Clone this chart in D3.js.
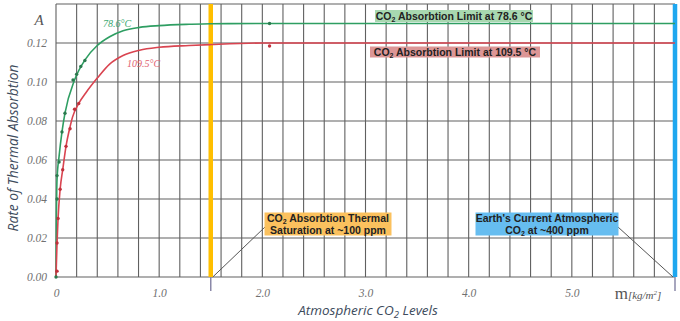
<!DOCTYPE html>
<html><head><meta charset="utf-8">
<script src="https://cdn.jsdelivr.net/npm/d3@7"></script>
<style>body{margin:0;background:#fff}svg{display:block}</style>
</head><body><svg id="c" width="680" height="321"></svg>
<script>
// ---- data ----
const xTickValues = [0, 1, 2, 3, 4, 5];
const xTickLabels = ["0", "1.0", "2.0", "3.0", "4.0", "5.0"];
const yTickValues = [0, 0.02, 0.04, 0.06, 0.08, 0.10, 0.12];
const yTickLabels = ["0.00", "0.02", "0.04", "0.06", "0.08", "0.10", "0.12"];
const greenCurveX = [0, 0.004, 0.01, 0.03, 0.058, 0.087, 0.18, 0.29, 0.40, 0.52, 0.65, 0.81, 1.0, 1.29, 1.5, 2.0, 3.0, 6.0];
const greenCurveY = [0, 0.03, 0.05, 0.062, 0.0744, 0.084, 0.101, 0.112, 0.1187, 0.1232, 0.1263, 0.128, 0.1289, 0.1296, 0.1299, 0.13, 0.13, 0.13];
const redCurveX = [0, 0.01, 0.02, 0.04, 0.065, 0.097, 0.136, 0.16, 0.22, 0.29, 0.40, 0.52, 0.65, 0.81, 1.0, 1.29, 1.5, 2.0, 6.0];
const redCurveY = [0, 0.0174, 0.03, 0.045, 0.055, 0.067, 0.077, 0.082, 0.089, 0.0945, 0.102, 0.1092, 0.1136, 0.1163, 0.1178, 0.1187, 0.1192, 0.12, 0.12];
const greenDotX = [0, 0.01, 0.01, 0.03, 0.058, 0.087, 0.165, 0.2, 0.24, 0.28, 2.07];
const greenDotY = [0, 0.04, 0.052, 0.059, 0.0744, 0.084, 0.101, 0.104, 0.108, 0.111, 0.13];
const redDotX = [0.01, 0.01, 0.02, 0.04, 0.065, 0.097, 0.136, 0.18, 0.22, 2.07];
const redDotY = [0.003, 0.0174, 0.03, 0.045, 0.055, 0.067, 0.076, 0.086, 0.089, 0.1185];
const saturationX = 1.5;
const currentX = 6.0;
const gridXStep = 0.2;

// ---- layout ----
const svg = d3.select("#c");
const L = 56, R = 675, T = 4, B = 277;
const x = d3.scaleLinear().domain([0, 6]).range([L, R]);
const y = d3.scaleLinear().domain([0, 0.14]).range([B, T]);
const serif = "'Liberation Serif','DejaVu Serif',serif";
const sans = "'Liberation Sans',Arial,sans-serif";
const titleFont = "'Open Sans','Noto Sans',sans-serif";

// grid
const gx = d3.range(0, 6.0001, gridXStep);
svg.append("g").selectAll("line").data(gx).join("line")
  .attr("x1", d => x(d)).attr("x2", d => x(d)).attr("y1", T).attr("y2", B)
  .attr("stroke", "#606060").attr("stroke-width", 1.1);
svg.append("g").selectAll("line").data(yTickValues.concat([0.14])).join("line")
  .attr("x1", L).attr("x2", R).attr("y1", d => y(d)).attr("y2", d => y(d))
  .attr("stroke", "#606060").attr("stroke-width", 1.1);

// y axis labels
const yAxis = d3.axisLeft(y).tickValues(yTickValues).tickFormat((d, i) => yTickLabels[i]).tickSize(0).tickPadding(9);
const ya = svg.append("g").attr("transform", `translate(${L},0)`).call(yAxis);
ya.select(".domain").remove();
ya.selectAll("text").attr("font-family", serif).attr("font-style", "italic").attr("font-size", 11.5).attr("fill", "#707070");
svg.append("text").attr("x", 39).attr("y", 25).attr("text-anchor", "middle")
  .attr("font-family", serif).attr("font-style", "italic").attr("font-size", 15).attr("fill", "#555").text("A");

// x axis labels
const xAxis = d3.axisBottom(x).tickValues(xTickValues).tickFormat((d, i) => xTickLabels[i]).tickSize(0).tickPadding(12);
const xa = svg.append("g").attr("transform", `translate(0,${B})`).call(xAxis);
xa.select(".domain").remove();
xa.selectAll("text").attr("font-family", serif).attr("font-style", "italic").attr("font-size", 11.5).attr("fill", "#707070");
const mt = svg.append("text").attr("x", 638).attr("y", 299).attr("text-anchor", "middle")
  .attr("font-family", serif).attr("fill", "#555");
mt.append("tspan").attr("font-size", 17).text("m");
mt.append("tspan").attr("font-size", 11).attr("font-style", "italic").text("[kg/m");
mt.append("tspan").attr("font-size", 7).attr("font-style", "italic").attr("dy", -4).text("2");
mt.append("tspan").attr("font-size", 11).attr("font-style", "italic").attr("dy", 4).text("]");

// vertical markers
[[saturationX, "#ffbf00"], [currentX, "#1ea7ef"]].forEach(([v, c]) => {
  svg.append("line").attr("x1", x(v)).attr("x2", x(v)).attr("y1", B).attr("y2", B + 14)
    .attr("stroke", "#8a88a8").attr("stroke-width", 1.5);
  svg.append("line").attr("x1", x(v)).attr("x2", x(v)).attr("y1", T).attr("y2", B)
    .attr("stroke", c).attr("stroke-width", 4.5);
});

// curves
const line = d3.line().x(d => x(d[0])).y(d => y(d[1])).curve(d3.curveMonotoneX);
svg.append("path").datum(d3.zip(greenCurveX, greenCurveY)).attr("d", line)
  .attr("fill", "none").attr("stroke", "#2e9e62").attr("stroke-width", 1.6);
svg.append("path").datum(d3.zip(redCurveX, redCurveY)).attr("d", line)
  .attr("fill", "none").attr("stroke", "#d94450").attr("stroke-width", 1.6);
svg.append("g").selectAll("circle").data(d3.zip(greenDotX, greenDotY)).join("circle")
  .attr("cx", d => x(d[0])).attr("cy", d => y(d[1])).attr("r", 1.7).attr("fill", "#2b7a4e");
svg.append("g").selectAll("circle").data(d3.zip(redDotX, redDotY)).join("circle")
  .attr("cx", d => x(d[0])).attr("cy", d => y(d[1])).attr("r", 1.7).attr("fill", "#c0303b");

// curve labels
svg.append("text").attr("x", 103).attr("y", 27).attr("font-family", serif).attr("font-style", "italic")
  .attr("font-size", 10).attr("fill", "#3aa870").text("78.6°C");
svg.append("text").attr("x", 127).attr("y", 67).attr("font-family", serif).attr("font-style", "italic")
  .attr("font-size", 10).attr("fill", "#e06070").text("109.5°C");

// connectors
svg.append("line").attr("x1", 265).attr("y1", 227).attr("x2", x(saturationX) + 2).attr("y2", B)
  .attr("stroke", "#555").attr("stroke-width", 1);
svg.append("line").attr("x1", 618).attr("y1", 227).attr("x2", x(currentX) - 2).attr("y2", B)
  .attr("stroke", "#555").attr("stroke-width", 1);

// annotation boxes
function box(cx, cy, w, h, fill, lines) {
  svg.append("rect").attr("x", cx - w / 2).attr("y", cy - h / 2).attr("width", w).attr("height", h).attr("fill", fill);
  const lh = 12;
  lines.forEach((ln, i) => {
    const yy = cy - (lines.length - 1) * lh / 2 + i * lh + 3.5;
    const t = svg.append("text").attr("x", cx).attr("y", yy).attr("text-anchor", "middle").attr("font-family", sans)
      .attr("font-weight", "bold").attr("font-size", 10.5).attr("fill", "#222");
    ln.forEach(seg => {
      if (seg.sub) t.append("tspan").attr("font-size", 7).attr("baseline-shift", "-2").text(seg.sub);
      else t.append("tspan").text(seg.t);
    });
  });
}
box(454, 16, 158, 12, "#a8d8b0", [[{t: "CO"}, {sub: "2"}, {t: " Absorbtion Limit at 78.6 °C"}]]);
box(455, 52, 170, 11, "#dc9696", [[{t: "CO"}, {sub: "2"}, {t: " Absorbtion Limit at 109.5 °C"}]]);
box(328, 224, 127, 23, "#fbc15e", [[{t: "CO"}, {sub: "2"}, {t: " Absorbtion Thermal"}], [{t: "Saturation at ~100 ppm"}]]);
box(547, 224, 143, 23, "#66bdf0", [[{t: "Earth's Current Atmospheric"}], [{t: "CO"}, {sub: "2"}, {t: " at ~400 ppm"}]]);

// axis titles
const xt = svg.append("text").attr("x", 368).attr("y", 315).attr("text-anchor", "middle")
  .attr("font-family", titleFont).attr("font-style", "italic").attr("font-size", 13.5).attr("fill", "#3d4b5c");
xt.append("tspan").text("Atmospheric CO");
xt.append("tspan").attr("font-size", 9.5).attr("baseline-shift", "-3").text("2");
xt.append("tspan").text(" Levels");
svg.append("text").attr("transform", "translate(18,148) rotate(-90)").attr("text-anchor", "middle")
  .attr("font-family", titleFont).attr("font-style", "italic").attr("font-size", 13.8).attr("fill", "#3d4b5c")
  .text("Rate of Thermal Absorbtion");
</script></body></html>
